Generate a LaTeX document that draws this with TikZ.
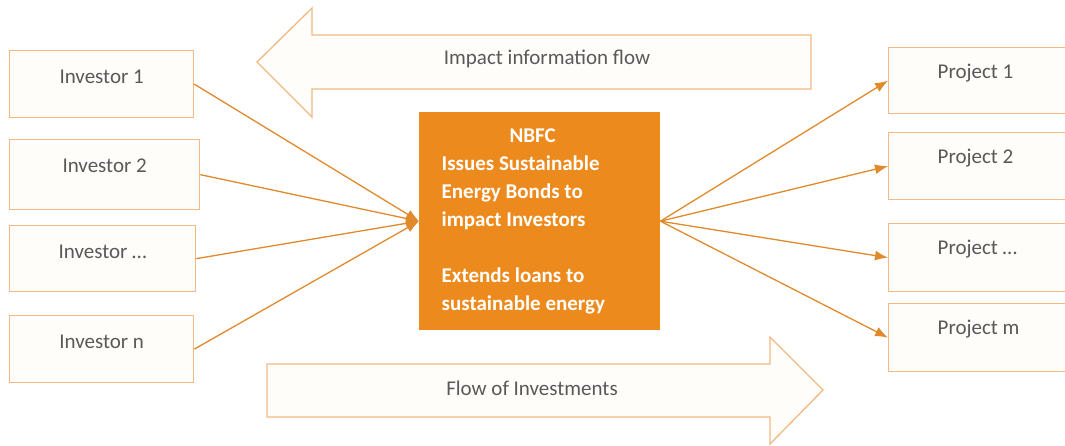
\documentclass[tikz,border=0pt]{standalone}
\usepackage{fontspec}
\setmainfont{Carlito}
\usetikzlibrary{arrows.meta}

\definecolor{boxline}{HTML}{F0B985}
\definecolor{boxfill}{HTML}{FFFDF9}
\definecolor{linkcol}{HTML}{E08A2C}
\definecolor{nbfcfill}{HTML}{ED8A1E}
\definecolor{textgray}{HTML}{595959}

\begin{document}
\begin{tikzpicture}[x=1pt,y=-1pt,
  box/.style={draw=boxline,fill=boxfill,line width=1.3pt,anchor=north west,inner ysep=0pt,
    text height=33pt,text depth=34pt,text=textgray,font=\fontsize{21}{25}\selectfont},
  projbox/.style={box,minimum width=200pt,text width=110pt,align=flush left,inner xsep=49pt},
  bigarrow/.style={draw=boxline,fill=boxfill,line width=1.3pt,line join=miter},
  link/.style={draw=linkcol,line width=1.3pt,-{Latex[length=13pt,width=10pt]}}]
\clip (0,0) rectangle (1065,446);
\fill[white] (0,0) rectangle (1065,446);

\draw[bigarrow] (257,62) -- (312,8) -- (312,35) -- (811,35) -- (811,89) -- (312,89) -- (312,117) -- cycle;
\node[anchor=base,text=textgray,font=\fontsize{21}{25}\selectfont] (impact) at (547,65) {Impact information flow};

\draw[bigarrow] (267,364) -- (770,364) -- (770,337) -- (823,390) -- (770,444) -- (770,417) -- (267,417) -- cycle;
\node[anchor=base,text=textgray,font=\fontsize{21}{25}\selectfont] (invest) at (532,395) {Flow of Investments};

\node[box,minimum width=184pt] (inv1) at (9,50) {Investor 1};
\node[box,minimum width=190pt,text depth=37pt] (inv2) at (9,139) {Investor 2};
\node[box,minimum width=186pt,text depth=33pt] (inv3) at (9,225) {Investor \dots};
\node[box,minimum width=184pt] (inv4) at (9,315) {Investor n};

\node[projbox,text height=31pt,text depth=35pt] (proj1) at (888,47) {Project 1};
\node[projbox,text height=31pt,text depth=36pt] (proj2) at (888,132) {Project 2};
\node[projbox,text height=31pt,text depth=37pt] (proj3) at (888,223) {Project \dots};
\node[projbox,text height=31pt,text depth=37pt] (proj4) at (888,303) {Project m};

\node[fill=nbfcfill,anchor=north west,minimum width=241pt,minimum height=218pt,text width=196pt,
  align=flush left,text=white,font=\bfseries\fontsize{21}{28}\selectfont] (nbfc) at (419,112)
  {\makebox[182pt]{NBFC}\\Issues Sustainable\\Energy Bonds to\\impact Investors\\[28pt]Extends loans to\\sustainable energy};

\draw[link] (inv1.east) -- (nbfc.west);
\draw[link] (inv2.east) -- (nbfc.west);
\draw[link] (inv3.east) -- (nbfc.west);
\draw[link] (inv4.east) -- (nbfc.west);

\draw[link] (nbfc.east) -- (proj1.west);
\draw[link] (nbfc.east) -- (proj2.west);
\draw[link] (nbfc.east) -- (proj3.west);
\draw[link] (nbfc.east) -- (proj4.west);
\end{tikzpicture}
\end{document}
